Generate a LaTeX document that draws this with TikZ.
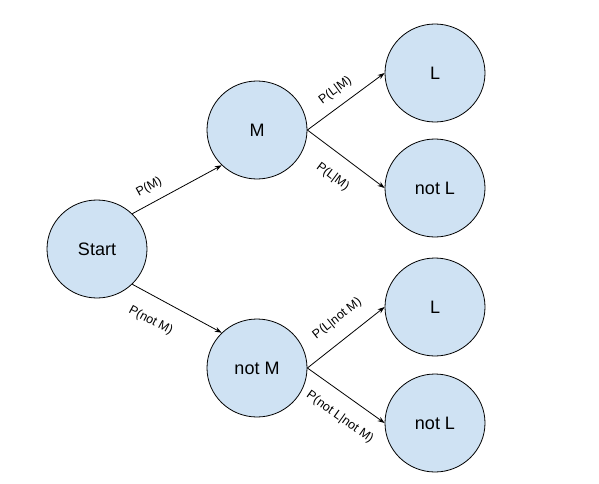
\documentclass[tikz,border=0pt]{standalone}
\usepackage{fontspec}
\setmainfont{Liberation Sans}
\usetikzlibrary{arrows.meta,shapes.geometric}
\definecolor{nodefill}{HTML}{CFE2F3}
\begin{document}
\begin{tikzpicture}[x=1pt,y=-1pt,
  state/.style={ellipse,draw=black,line width=0.8pt,fill=nodefill,minimum width=100pt,minimum height=98pt,inner sep=0pt,font=\fontsize{18}{20}\selectfont},
  conn/.style={line width=0.8pt,-{Stealth[length=7pt,width=5pt]}},
  lbl/.style={sloped,inner sep=0pt,font=\fontsize{12.5}{14}\selectfont}]
\useasboundingbox (0,0) rectangle (599,484);
\node[state] (start) at (97,249) {Start};
\node[state] (m) at (257,130) {M};
\node[state] (nm) at (257,368) {not M};
\node[state] (l1) at (435,73) {L};
\node[state] (nl1) at (435,188) {not L};
\node[state] (l2) at (435,307) {L};
\node[state] (nl2) at (435,423) {not L};
\draw[conn] (start.45) -- node[lbl,pos=0.27,above=9pt] {P(M)} (m.225);
\draw[conn] (start.-45) -- node[lbl,pos=0.33,below=17pt] {P(not M)} (nm.135);
\draw[conn] (m.east) -- node[lbl,pos=0.48,above=9pt] {P(L|M)} (l1.west);
\draw[conn] (m.east) -- node[lbl,pos=0.5,below=16pt] {P(L|M)} (nl1.west);
\draw[conn] (nm.east) -- node[lbl,pos=0.55,above=14pt] {P(L|not M)} (l2.west);
\draw[conn] (nm.east) -- node[lbl,pos=0.58,below=15pt] {P(not L|not M)} (nl2.west);
\end{tikzpicture}
\end{document}
